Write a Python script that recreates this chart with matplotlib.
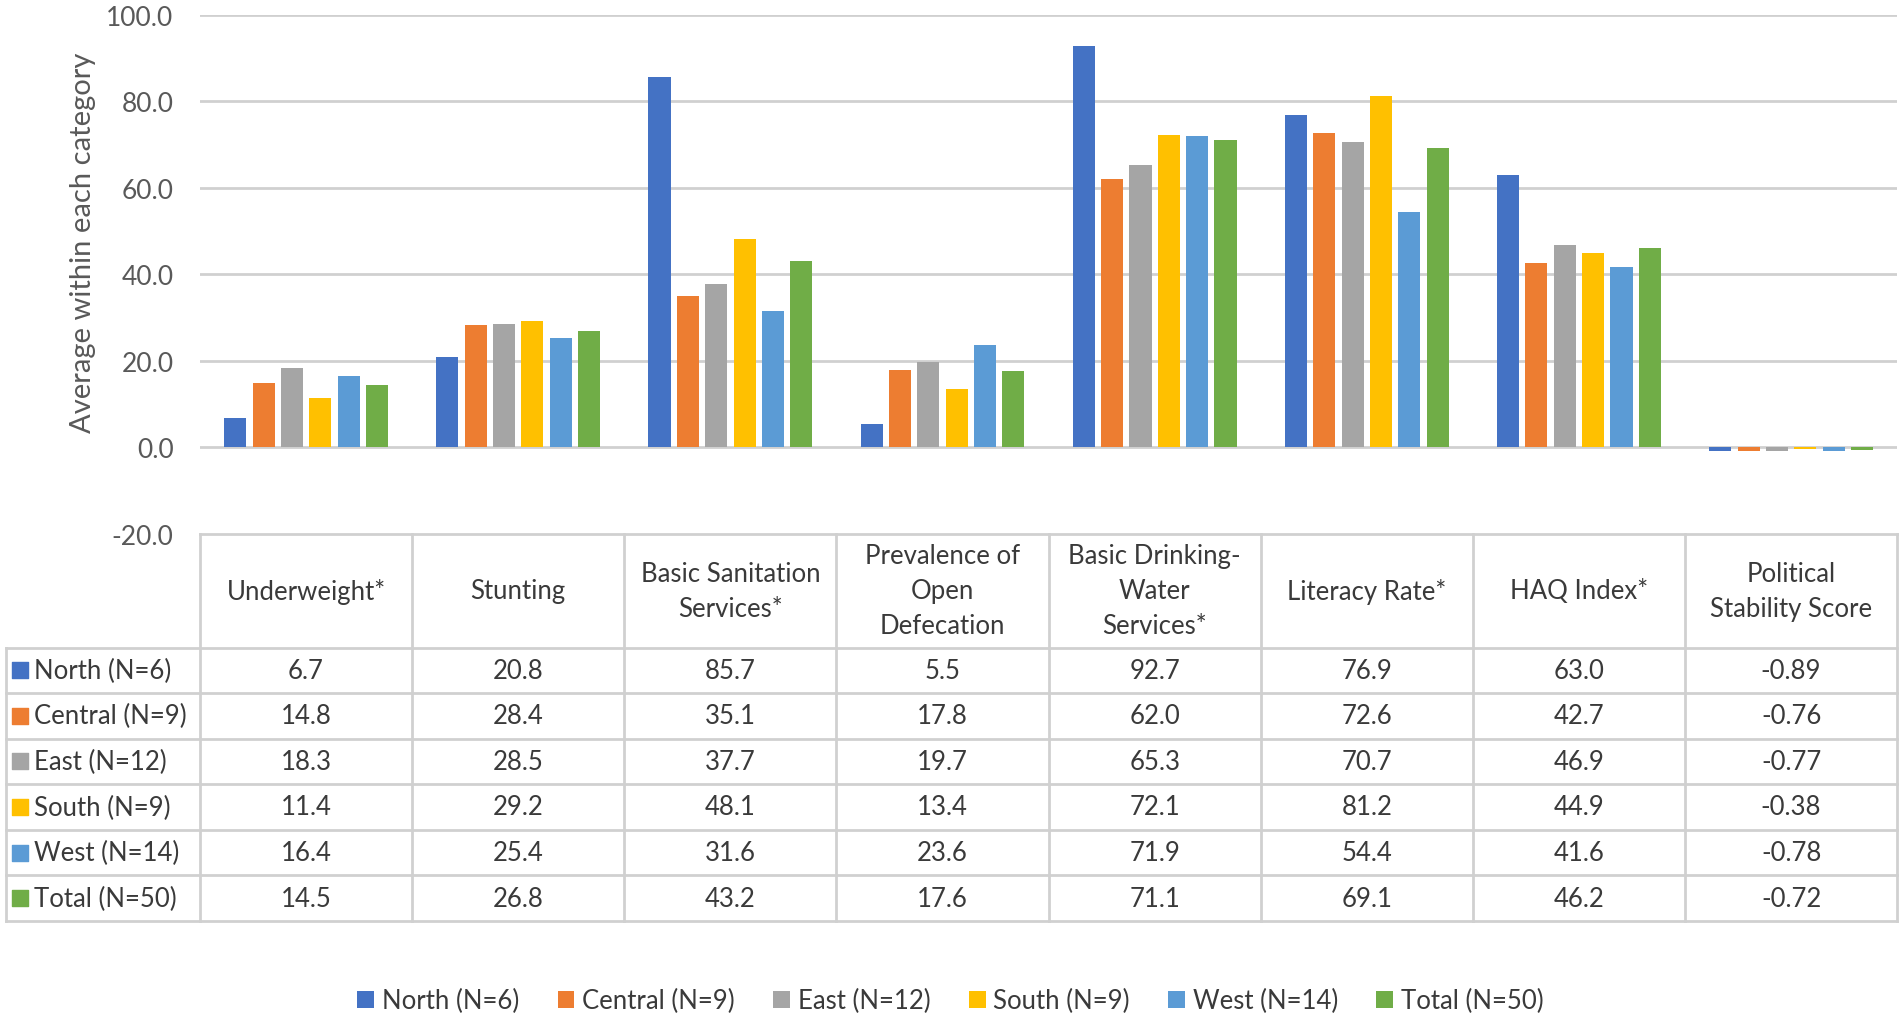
import matplotlib
matplotlib.use("Agg")
import matplotlib.pyplot as plt
import numpy as np

plt.rcParams['font.family'] = ['Lato', 'DejaVu Sans']

# categories (table header) and series
categories = ["Underweight*", "Stunting", "Basic Sanitation\nServices*",
              "Prevalence of\nOpen\nDefecation", "Basic Drinking-\nWater\nServices*",
              "Literacy Rate*", "HAQ Index*", "Political\nStability Score"]
series_names = ["North (N=6)", "Central (N=9)", "East (N=12)",
                "South (N=9)", "West (N=14)", "Total (N=50)"]
north = [6.7, 20.8, 85.7, 5.5, 92.7, 76.9, 63.0, -0.89]
central = [14.8, 28.4, 35.1, 17.8, 62.0, 72.6, 42.7, -0.76]
east = [18.3, 28.5, 37.7, 19.7, 65.3, 70.7, 46.9, -0.77]
south = [11.4, 29.2, 48.1, 13.4, 72.1, 81.2, 44.9, -0.38]
west = [16.4, 25.4, 31.6, 23.6, 71.9, 54.4, 41.6, -0.78]
total = [14.5, 26.8, 43.2, 17.6, 71.1, 69.1, 46.2, -0.72]
decimals = [1, 1, 1, 1, 1, 1, 1, 2]
yticks = [-20, 0, 20, 40, 60, 80, 100]

series = [north, central, east, south, west, total]
colors = ["#4472C4", "#ED7D31", "#A5A5A5", "#FFC000", "#5B9BD5", "#70AD47"]
txt = "#3A3A3A"
tick_col = "#595959"
line_col = "#D0D0D0"
fs = 18.5

fig = plt.figure(figsize=(19.01, 10.20), dpi=100)

left, right = 0.1052, 0.998
top, axis_bottom = 0.9845, 0.4756
table_bottom = 0.0963

ax = fig.add_axes([left, axis_bottom, right - left, top - axis_bottom])
n = len(categories)
x = np.arange(n) + 0.5
bw = 0.104
pitch = 0.1336
handles = []
for i, (vals, c) in enumerate(zip(series, colors)):
    off = (i - 2.5) * pitch
    b = ax.bar(x + off, vals, width=bw, color=c, zorder=3, label=series_names[i])
    handles.append(b)

ax.set_xlim(0, n)
ax.set_ylim(-20, 100)
ax.set_yticks(yticks)
ax.set_yticklabels([f"{v:.1f}" for v in yticks], color=tick_col, fontsize=fs + 0.5)
ax.tick_params(axis='y', length=0, pad=19)
ax.set_xticks([])
for s in ax.spines.values():
    s.set_visible(False)
for v in yticks[1:]:
    ax.axhline(v, color=line_col, lw=2, zorder=1)

fig.text(0.0434, 0.762, "Average within each category", rotation=90,
         ha='center', va='center', color=tick_col, fontsize=21)

# data table under the chart
tab = fig.add_axes([left, table_bottom, right - left, axis_bottom - table_bottom])
tab.set_xlim(0, n)
header_h = 2.5
nrows = len(series)
tab.set_ylim(0, nrows + header_h)
tab.axis('off')
label_x0 = -0.914
ytop = nrows + header_h
lkw = dict(color=line_col, lw=2, clip_on=False)

# header row
tab.plot([0, n], [ytop, ytop], **lkw)
for j in range(n + 1):
    tab.plot([j, j], [0, ytop], **lkw)
for j, cat in enumerate(categories):
    tab.text(j + 0.5, nrows + header_h / 2, cat, ha='center', va='center',
             color=txt, fontsize=fs, linespacing=1.5)

# data rows
tab.plot([label_x0, label_x0], [0, nrows], **lkw)
for r in range(nrows + 1):
    tab.plot([label_x0, n], [r, r], **lkw)
for r, (vals, name, c) in enumerate(zip(series, series_names, colors)):
    yc = nrows - r - 0.5
    tab.scatter([label_x0 + 0.065], [yc], marker='s', s=120, color=c, clip_on=False)
    tab.text(label_x0 + 0.13, yc, name, ha='left', va='center', color=txt, fontsize=fs)
    for j, v in enumerate(vals):
        tab.text(j + 0.5, yc, f"{v:.{decimals[j]}f}", ha='center', va='center',
                 color=txt, fontsize=fs)

fig.legend(handles=handles, labels=series_names, loc='center', ncol=6,
           bbox_to_anchor=(0.5, 0.0178), frameon=False, fontsize=fs,
           handlelength=0.65, handleheight=0.65, handletextpad=0.3,
           columnspacing=1.5, labelcolor=txt)

fig.savefig("out.png", dpi=100)
